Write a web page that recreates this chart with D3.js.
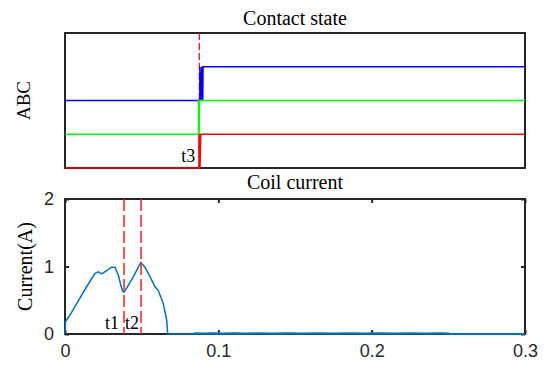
<!DOCTYPE html>
<html>
<head>
<meta charset="utf-8">
<script src="https://cdn.jsdelivr.net/npm/d3@7"></script>
<style>
  body { margin: 0; background: #fff; }
  svg { display: block; }
  .ttl { font-family: "Liberation Serif", "Times New Roman", serif; fill: #000; }
  .tick-label { font-family: "Liberation Sans", Arial, sans-serif; font-size: 18px; fill: #262626; }
</style>
</head>
<body>
<div id="chart-area"></div>
<script>
// ---- data ----
var timeTicks = [0, 0.1, 0.2, 0.3]
var timeTickLabels = ["0", "0.1", "0.2", "0.3"]
var currentTicks = [0, 1, 2]

// contact state: [time, level]
var phaseA = [[0, 0], [0.0874, 0], [0.0874, 1], [0.0880, 0], [0.0885, 1], [0.0887, 1], [0.3, 1]]
var phaseB = [[0, 1], [0.0871, 1], [0.0871, 2], [0.0874, 1], [0.0877, 2], [0.3, 2]]
var phaseC = [[0, 2], [0.0880, 2], [0.0880, 3], [0.0886, 2], [0.0893, 3], [0.0898, 2], [0.0900, 3], [0.3, 3]]

// coil current: [time, A]
var coil = [
  [0, 0], [0.0003, 0.18], [0.0040, 0.31], [0.0076, 0.45], [0.0141, 0.70], [0.0196, 0.90],
  [0.0217, 0.92], [0.0239, 0.89], [0.0272, 0.94], [0.0304, 0.99], [0.0326, 0.99],
  [0.0348, 0.87], [0.0362, 0.74], [0.0376, 0.63], [0.0385, 0.62], [0.0402, 0.68],
  [0.0446, 0.85], [0.0494, 1.06], [0.0522, 0.99], [0.0554, 0.85], [0.0587, 0.70],
  [0.0609, 0.64], [0.0641, 0.45], [0.0663, 0.21], [0.0670, 0], [0.0835, 0]
]
var coilNoise = [
  [0.0835, 0], [0.0850, 0.008], [0.0900, 0.005], [0.0960, 0.009], [0.1020, 0.006],
  [0.1100, 0.009], [0.1180, 0.005], [0.1250, 0.008], [0.1350, 0.006], [0.1450, 0.009],
  [0.1550, 0.006], [0.1650, 0.008], [0.1750, 0.007], [0.1850, 0.009], [0.1950, 0.006],
  [0.2050, 0.009], [0.2150, 0.006], [0.2250, 0.008], [0.2350, 0.007], [0.2450, 0.008],
  [0.2500, 0.007], [0.2505, 0], [0.3, 0]
]

var marks = [
  {name: "t1", t: 0.0385},
  {name: "t2", t: 0.0496},
  {name: "t3", t: 0.0876}
]

// ---- layout ----
var cw = 548, ch = 368
var left = 65, right = 525
var top1 = 33, bot1 = 168
var top2 = 199, bot2 = 334

var svg = d3.select("#chart-area").append("svg")
  .attr("width", cw)
  .attr("height", ch)

var x = d3.scaleLinear().domain([0, 0.3]).range([left, right])
var yState = d3.scaleLinear().domain([0, 4]).range([bot1, top1])
var yCur = d3.scaleLinear().domain([0, 2]).range([bot2, top2])

var line1 = d3.line().x(d => x(d[0])).y(d => yState(d[1]))
var line2 = d3.line().x(d => x(d[0])).y(d => yCur(d[1]))

// ---- top panel ----
svg.append("rect")
  .attr("x", left).attr("y", top1)
  .attr("width", right - left).attr("height", bot1 - top1)
  .attr("fill", "none").attr("stroke", "#262626").attr("stroke-width", 2)

svg.append("text").attr("class", "ttl")
  .attr("x", (left + right) / 2).attr("y", 25)
  .attr("text-anchor", "middle").attr("font-size", "20px")
  .text("Contact state")

svg.append("text").attr("class", "ttl")
  .attr("transform", "translate(30," + (top1 + bot1) / 2 + ") rotate(-90)")
  .attr("text-anchor", "middle").attr("font-size", "19px")
  .text("ABC")

var t3 = marks[2]
svg.append("line")
  .attr("x1", x(t3.t)).attr("x2", x(t3.t))
  .attr("y1", top1).attr("y2", bot1)
  .attr("stroke", "#ff0000").attr("stroke-width", 1.2)
  .attr("stroke-dasharray", "7,3")

var states = [
  {data: phaseC, color: "#0000ff"},
  {data: phaseB, color: "#00ff00"},
  {data: phaseA, color: "#ff0000"}
]
states.forEach(s => {
  svg.append("path")
    .attr("d", line1(s.data))
    .attr("fill", "none")
    .attr("stroke", s.color)
    .attr("stroke-width", 1.6)
})

svg.append("text").attr("class", "ttl")
  .attr("x", x(t3.t) - 4).attr("y", 162)
  .attr("text-anchor", "end").attr("font-size", "18px")
  .text(t3.name)

// ---- bottom panel ----
svg.append("rect")
  .attr("x", left).attr("y", top2)
  .attr("width", right - left).attr("height", bot2 - top2)
  .attr("fill", "none").attr("stroke", "#262626").attr("stroke-width", 2)

svg.append("text").attr("class", "ttl")
  .attr("x", (left + right) / 2).attr("y", 189)
  .attr("text-anchor", "middle").attr("font-size", "20px")
  .text("Coil current")

svg.append("text").attr("class", "ttl")
  .attr("transform", "translate(32," + (top2 + bot2) / 2 + ") rotate(-90)")
  .attr("text-anchor", "middle").attr("font-size", "20px")
  .text("Current(A)")

// inward ticks on all four sides
var bottomAxis = d3.axisBottom(x).tickValues(timeTicks).tickSize(-4).tickFormat((d, i) => timeTickLabels[i]).tickPadding(10)
var topAxis = d3.axisTop(x).tickValues(timeTicks).tickSize(-4).tickFormat("")
var leftAxis = d3.axisLeft(yCur).tickValues(currentTicks).tickSize(-4).tickFormat(d3.format("d")).tickPadding(11)
var rightAxis = d3.axisRight(yCur).tickValues(currentTicks).tickSize(-4).tickFormat("")

function styleAxis(g) {
  g.select(".domain").remove()
  g.selectAll(".tick line").attr("stroke", "#262626").attr("stroke-width", 2)
  g.selectAll(".tick text").attr("class", "tick-label").attr("font-size", null).attr("font-family", null)
}
svg.append("g").attr("transform", "translate(0," + bot2 + ")").call(bottomAxis).call(styleAxis)
svg.append("g").attr("transform", "translate(0," + top2 + ")").call(topAxis).call(styleAxis)
svg.append("g").attr("transform", "translate(" + left + ",0)").call(leftAxis).call(styleAxis)
svg.append("g").attr("transform", "translate(" + right + ",0)").call(rightAxis).call(styleAxis)

svg.append("path")
  .attr("d", line2(coilNoise))
  .attr("fill", "none").attr("stroke", "#0072bd").attr("stroke-width", 2.2)

svg.append("path")
  .attr("d", line2(coil))
  .attr("fill", "none").attr("stroke", "#0072bd").attr("stroke-width", 1.5)

marks.slice(0, 2).forEach(m => {
  svg.append("line")
    .attr("x1", x(m.t)).attr("x2", x(m.t))
    .attr("y1", top2).attr("y2", bot2)
    .attr("stroke", "#ff2020").attr("stroke-width", 1.5)
    .attr("stroke-dasharray", "12,4")
})

svg.append("text").attr("class", "ttl")
  .attr("x", x(marks[0].t) - 5).attr("y", 329)
  .attr("text-anchor", "end").attr("font-size", "18px")
  .text(marks[0].name)
svg.append("text").attr("class", "ttl")
  .attr("x", x(marks[0].t) + 1).attr("y", 329)
  .attr("text-anchor", "start").attr("font-size", "18px")
  .text(marks[1].name)
</script>
</body>
</html>
